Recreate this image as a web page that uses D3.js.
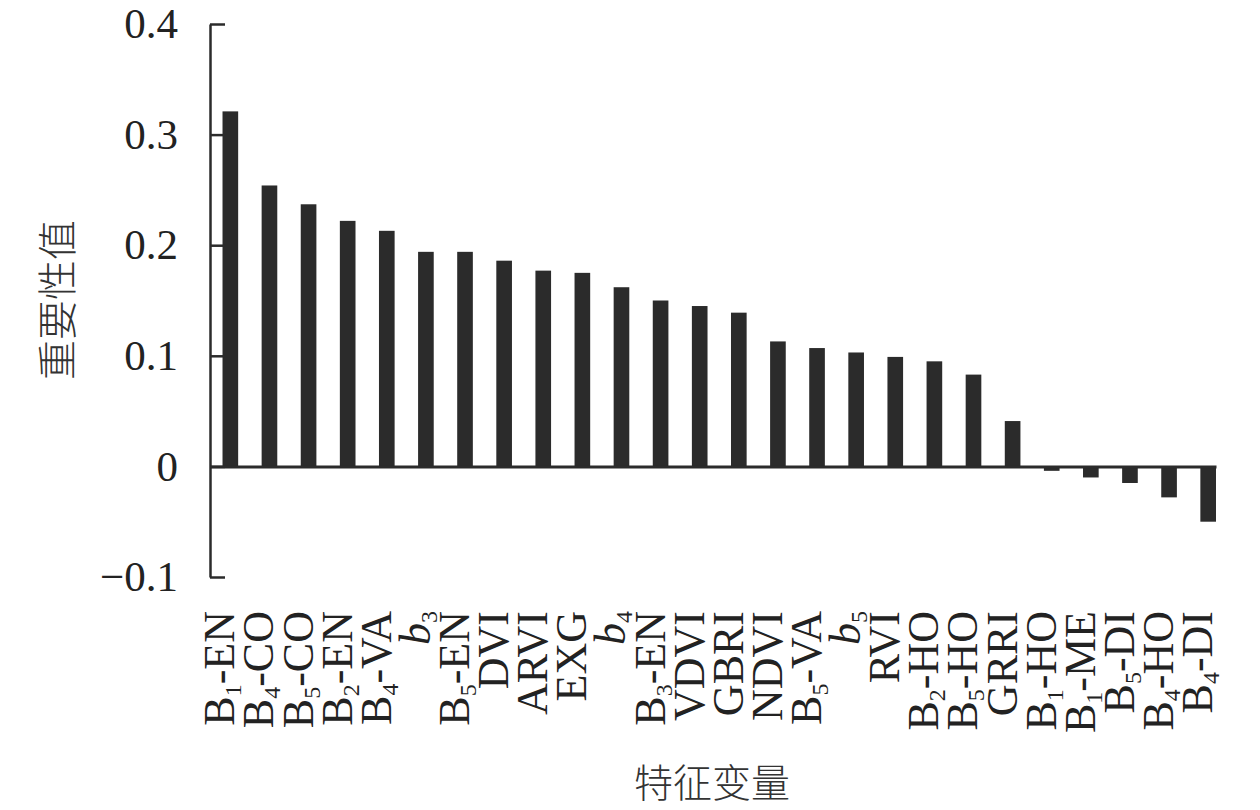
<!DOCTYPE html>
<html><head><meta charset="utf-8">
<script src="https://cdn.jsdelivr.net/npm/d3@7"></script>
<style>body{margin:0;background:#fff}</style>
</head><body><svg id="c" width="1260" height="810"></svg>
<script>
const categories = ["B1-EN","B4-CO","B5-CO","B2-EN","B4-VA","b3","B5-EN","DVI","ARVI","EXG","b4","B3-EN","VDVI","GBRI","NDVI","B5-VA","b5","RVI","B2-HO","B5-HO","GRRI","B1-HO","B1-ME","B5-DI","B4-HO","B4-DI"];
const importance = [0.321,0.254,0.237,0.222,0.213,0.194,0.194,0.186,0.177,0.175,0.162,0.150,0.145,0.139,0.113,0.107,0.103,0.099,0.095,0.083,0.041,-0.004,-0.010,-0.015,-0.028,-0.050];
const yTicks = [-0.1, 0, 0.1, 0.2, 0.3, 0.4];
const yTickLabels = ["\u22120.1", "0", "0.1", "0.2", "0.3", "0.4"];
const yTitle = "重要性值";
const xTitle = "特征变量";

const svg = d3.select("#c");
const ink = "#2b2b2b";
const serif = "'Liberation Serif','Times New Roman',serif";
const cjk = "'Noto Sans CJK SC','Noto Sans CJK JP',sans-serif";

const x = d3.scaleBand().domain(categories).range([210, 1216])
  .paddingInner(0.6).paddingOuter(0.16).align(1);
const y = d3.scaleLinear().domain([-0.1, 0.4]).range([577, 24]);

// bars
svg.append("g").selectAll("rect").data(categories).join("rect")
  .attr("x", d => x(d))
  .attr("width", x.bandwidth())
  .attr("y", (d, i) => y(Math.max(0, importance[i])))
  .attr("height", (d, i) => Math.abs(y(importance[i]) - y(0)))
  .attr("fill", ink);

// y axis
const yAxis = d3.axisLeft(y).tickValues(yTicks)
  .tickFormat((d, i) => yTickLabels[i])
  .tickSizeInner(-15).tickSizeOuter(0).tickPadding(32);
const gy = svg.append("g").attr("transform", "translate(210,0)").call(yAxis);
gy.select(".domain").attr("stroke", ink).attr("stroke-width", 2.5);
gy.selectAll(".tick line").attr("stroke", ink).attr("stroke-width", 2.5);
gy.selectAll(".tick text").attr("font-family", serif).attr("font-size", 43)
  .attr("fill", "#222");

// zero line (x axis)
const xAxis = d3.axisBottom(x).tickSize(0).tickFormat("");
const gx = svg.append("g").attr("transform", `translate(0,${y(0)})`).call(xAxis);
gx.select(".domain").attr("stroke", ink).attr("stroke-width", 3);

// category labels (rotated, with subscripts)
const lab = svg.append("g");
categories.forEach((c, i) => {
  const cx = x(c) + x.bandwidth() / 2 + 4;
  const t = lab.append("text")
    .attr("transform", `translate(${cx},611) rotate(-90)`)
    .attr("text-anchor", "end")
    .attr("font-family", serif).attr("font-size", 44).attr("fill", "#222");
  const m = c.match(/^([Bb])(\d)(.*)$/);
  if (m) {
    const b = t.append("tspan").text(m[1]);
    if (m[1] === "b") b.attr("font-style", "italic");
    t.append("tspan").attr("font-size", 24).attr("dy", 7).text(m[2]);
    if (m[3]) t.append("tspan").attr("dy", -7).text(m[3]);
  } else {
    t.text(c);
  }
});

// axis titles
svg.append("text")
  .attr("transform", "translate(55,300) rotate(-90)")
  .attr("text-anchor", "middle").attr("dominant-baseline", "central")
  .attr("font-family", cjk).attr("font-weight", 300).attr("font-size", 40)
  .attr("fill", "#333").text(yTitle);
svg.append("text")
  .attr("x", 712).attr("y", 797)
  .attr("text-anchor", "middle")
  .attr("font-family", cjk).attr("font-weight", 300).attr("font-size", 39)
  .attr("fill", "#333").text(xTitle);
</script>
</body></html>
